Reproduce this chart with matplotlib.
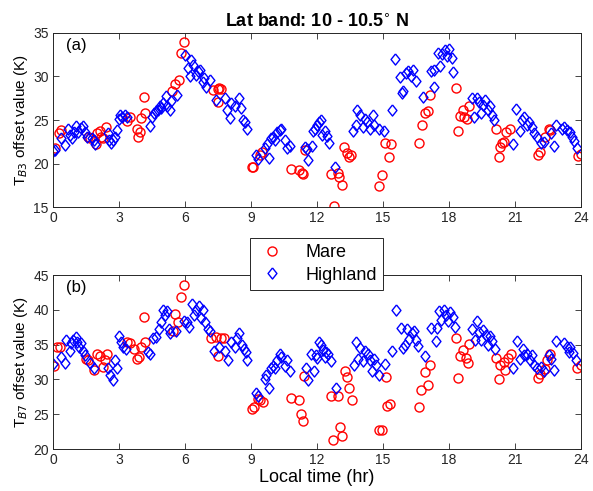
import matplotlib
matplotlib.use('Agg')
import matplotlib.pyplot as plt
import numpy as np

plt.rcParams['font.family'] = ['Liberation Sans', 'DejaVu Sans']

# Panel (a): TB3 offsets
mare_a_hr = [0.08, 0.26, 0.35, 1.6, 1.7, 1.94, 2.0, 2.15, 2.2, 2.28, 2.43, 3.35, 3.49, 3.8, 3.85, 3.95,
             4.0, 4.13, 4.2, 5.39, 5.54, 5.74, 5.84, 5.95, 7.28, 7.5, 7.56, 7.63, 7.5, 9.03, 9.1, 9.4,
             9.5, 10.8, 11.2, 11.35, 11.3, 11.45, 12.63, 12.75, 12.95, 13.0, 13.13, 13.23, 13.35, 13.45,
             13.55, 14.82, 14.95, 15.1, 15.25, 15.35, 16.65, 16.77, 16.92, 17.05, 17.15, 18.33, 18.43,
             18.48, 18.63, 18.7, 18.8, 18.93, 20.15, 20.26, 20.33, 20.4, 20.5, 20.6, 20.75, 22.03, 22.13,
             22.38, 22.53, 22.6, 23.85, 24.0]
mare_a_val = [21.75, 23.5, 23.8, 23.1, 22.9, 22.2, 23.5, 23.7, 23.1, 22.9, 24.2, 24.9, 25.4, 24.0, 23.1, 23.6,
              25.2, 27.6, 25.8, 28.3, 29.1, 29.6, 32.7, 34.0, 28.4, 28.6, 28.7, 28.6, 27.1, 19.6, 19.6, 21.0,
              21.3, 19.4, 19.3, 18.8, 18.9, 21.6, 18.8, 15.1, 18.9, 18.4, 17.5, 21.9, 21.2, 20.8,
              21.0, 17.4, 18.7, 22.4, 20.8, 22.2, 22.4, 24.4, 25.8, 26.0, 27.9, 28.7, 23.7,
              25.5, 26.1, 25.4, 25.1, 26.6, 24.0, 20.7, 21.9, 22.4, 22.5, 23.6, 24.0, 21.0, 21.3,
              23.1, 24.0, 23.8, 20.9, 21.1]

high_a_hr = [0.0, 0.1, 0.38, 0.53, 0.68, 0.75, 0.86, 0.95, 1.03, 1.12, 1.29, 1.37, 1.47, 1.55, 1.76, 1.85,
             1.9, 2.5, 2.56, 2.64, 2.74, 2.8, 2.9, 3.0, 3.06, 3.14, 3.26, 3.35, 4.4, 4.5, 4.6, 4.7, 4.78,
             4.85, 4.92, 5.0, 5.13, 5.18, 5.3, 5.38, 5.65, 6.0, 6.12, 6.22, 6.28, 6.38, 6.5, 6.6, 6.66,
             6.8, 6.87, 6.96, 7.12, 7.42, 7.8, 7.9, 8.03, 8.1, 8.25, 8.45, 8.56, 8.65, 8.72, 8.8, 9.22,
             9.32, 9.63, 9.73, 9.83, 9.93, 10.0, 10.08, 10.2, 10.3, 10.35, 10.55, 10.63, 10.75, 11.46,
             11.53, 11.6, 11.75, 11.84, 11.92, 12.0, 12.09, 12.17, 12.24, 12.35, 12.44, 12.55, 12.82,
             13.63, 13.75, 13.82, 13.97, 14.1, 14.2, 14.28, 14.43, 14.55, 14.6, 14.8, 15.05, 15.4, 15.55,
             15.75, 15.85, 15.93, 16.04, 16.15, 16.25, 16.37, 16.52, 16.8, 17.16, 17.3, 17.33, 17.5, 17.6,
             17.7, 17.83, 17.93, 18.0, 18.13, 18.2, 19.04, 19.15, 19.25, 19.35, 19.45, 19.55, 19.64,
             19.76, 19.85, 19.95, 20.06, 20.9, 21.05, 21.23, 21.3, 21.42, 21.53, 21.65, 21.76, 21.87,
             21.99, 22.17, 22.3, 22.63, 22.76, 22.88, 23.14, 23.24, 23.36, 23.48, 23.6, 23.7, 23.82]
high_a_val = [21.4, 21.5, 22.9, 22.1, 24.0, 23.3, 22.9, 23.6, 24.3, 23.6, 24.1, 24.3, 23.6, 23.1, 22.9, 22.7,
              22.2, 23.5, 22.7, 22.4, 22.7, 23.1, 23.8, 25.1, 25.6, 25.4, 25.6, 25.3, 24.3, 25.4, 25.8, 26.0, 26.2,
              26.6, 26.4, 27.0, 27.8, 26.6, 26.2, 27.2, 27.9, 32.5, 31.0, 30.0, 31.9, 31.3, 30.2, 30.6, 30.7,
              29.4, 29.8, 28.8, 29.6, 27.3, 27.5, 26.2, 25.2, 27.0, 26.6, 27.5, 26.4, 25.0, 24.8, 24.0, 21.0,
              20.5, 21.8, 22.2, 20.6, 22.9, 23.1, 22.7, 23.6, 23.8, 24.0, 22.7, 21.8, 22.0, 21.9,
              21.7, 20.4, 22.0, 23.7, 24.0, 24.4, 24.8, 25.0, 23.3, 23.7, 23.2, 22.4, 19.6,
              23.7, 24.4, 26.2, 25.6, 24.2, 25.1, 24.8, 24.0, 25.6, 24.4, 24.0, 23.7, 26.1, 32.0,
              29.9, 28.1, 28.3, 30.4, 30.6, 30.0, 30.8, 29.5, 27.7, 30.6, 28.8, 30.8, 32.7, 31.2,
              32.6, 33.0, 32.4, 33.2, 32.1, 30.5, 27.5, 25.4, 27.5, 27.1, 25.8, 26.7, 27.3,
              26.2, 26.6, 25.6, 25.0, 22.2, 26.3, 23.7, 25.0, 25.4, 24.4, 24.8, 24.2, 23.5,
              23.1, 22.3, 22.5, 23.5, 22.0, 24.4, 24.0, 24.2, 23.8, 23.6, 23.1, 22.6, 21.8]

# Panel (b): TB7 offsets
mare_b_hr = [0.03, 0.18, 0.3, 1.52, 1.6, 1.85, 2.0, 2.12, 2.25, 2.36, 2.46, 3.37, 3.49, 3.7, 3.8, 3.93, 4.0,
             4.13, 4.2, 5.46, 5.53, 5.68, 5.84, 5.95, 7.2, 7.4, 7.5, 7.65, 7.75, 9.03, 9.13, 9.32, 9.43,
             9.53, 10.8, 11.18, 11.25, 11.37, 11.42, 12.63, 12.72, 12.95, 13.05, 13.15, 13.25, 13.38,
             13.46, 13.58, 14.8, 14.95, 15.15, 15.2, 15.33, 16.65, 16.72, 16.93, 17.03, 17.15, 18.33,
             18.43, 18.48, 18.63, 18.75, 18.85, 18.9, 20.15, 20.25, 20.33, 20.48, 20.55, 20.7, 20.8,
             22.03, 22.12, 22.37, 22.45, 22.57, 23.83, 24.0]
mare_b_val = [31.9, 34.6, 34.6, 32.9, 32.8, 31.3, 33.6, 33.3, 31.8, 32.8, 33.6, 35.4, 35.2, 34.4, 32.9, 33.2, 34.6,
              38.9, 35.4, 36.9, 39.4, 38.2, 41.9, 43.6, 35.9, 36.1, 33.4, 36.0, 35.9, 25.8, 26.0, 27.2, 27.0,
              26.8, 27.4, 27.0, 25.0, 24.0, 30.5, 27.6, 21.3, 27.6, 23.2, 21.8, 31.2, 30.4,
              28.7, 27.0, 22.8, 22.8, 30.4, 26.2, 26.5, 26.1, 28.5, 31.0, 29.2, 32.0, 35.9,
              30.2, 33.4, 34.2, 33.1, 32.3, 35.1, 33.1, 30.0, 32.1, 32.5, 31.4, 33.1, 33.6,
              30.2, 30.8, 31.5, 32.8, 33.6, 31.6, 32.0]

high_b_hr = [0.0, 0.38, 0.53, 0.6, 0.76, 0.84, 0.9, 1.03, 1.1, 1.18, 1.29, 1.37, 1.44, 1.67, 1.85, 2.5, 2.58,
             2.73, 2.8, 2.9, 3.0, 3.1, 3.2, 3.33, 4.3, 4.4, 4.56, 4.7, 4.8, 4.9, 5.0, 5.1, 5.2, 5.25, 5.3,
             5.6, 5.95, 6.08, 6.2, 6.3, 6.4, 6.5, 6.63, 6.74, 6.8, 6.93, 7.04, 7.14, 7.33, 7.56, 7.8,
             7.97, 8.1, 8.27, 8.37, 8.46, 8.57, 8.67, 8.76, 8.83, 9.22, 9.33, 9.63, 9.7, 9.83, 9.93,
             10.0, 10.08, 10.2, 10.3, 10.35, 10.55, 10.63, 10.75, 11.5, 11.6, 11.72, 11.86, 11.94, 12.0,
             12.08, 12.16, 12.27, 12.36, 12.42, 12.5, 12.62, 12.88, 13.7, 13.78, 13.88, 13.97, 14.1,
             14.2, 14.3, 14.4, 14.48, 14.6, 14.7, 14.8, 15.1, 15.43, 15.6, 15.8, 15.9, 16.0, 16.1, 16.2,
             16.3, 16.4, 16.5, 16.6, 16.9, 17.2, 17.4, 17.45, 17.55, 17.65, 17.75, 17.87, 17.94, 18.06,
             18.17, 18.27, 19.05, 19.16, 19.25, 19.36, 19.47, 19.55, 19.66, 19.76, 19.86, 19.96, 20.07,
             20.9, 21.08, 21.24, 21.36, 21.42, 21.55, 21.67, 21.78, 21.88, 22.0, 22.18, 22.3, 22.53,
             22.64, 22.76, 22.88, 23.21, 23.34, 23.44, 23.52, 23.64, 23.75]
high_b_val = [32.2, 33.2, 32.3, 35.6, 34.1, 35.3, 35.6, 36.1, 35.4, 34.7, 35.2, 34.1, 33.5, 32.3, 31.7, 31.7, 30.6,
              29.9, 32.8, 31.7, 36.3, 35.4, 34.7, 34.4, 34.0, 33.6, 35.9, 36.1, 37.3, 38.2, 40.0, 39.3, 39.8, 37.2, 36.7,
              37.0, 38.4, 38.2, 37.6, 40.9, 39.3, 40.0, 40.5, 38.8, 40.0, 38.2, 37.3, 36.9, 34.1, 34.6, 34.1,
              32.8, 35.4, 34.6, 35.9, 36.6, 35.0, 34.3, 33.9, 32.8, 28.1, 27.6, 30.1, 30.6, 28.8, 31.6,
              31.9, 31.7, 32.8, 33.6, 33.2, 31.9, 32.8, 31.2, 31.7, 29.9, 33.6, 31.2, 33.5, 33.1,
              35.4, 35.0, 34.2, 33.2, 33.9, 33.6, 32.6, 28.8, 32.0, 35.4, 32.9, 34.5, 32.7,
              34.1, 33.7, 32.8, 31.2, 32.9, 32.0, 30.6, 32.2, 34.1, 40.0, 37.4, 34.5, 35.0, 37.2, 35.8,
              36.6, 36.9, 35.7, 34.8, 33.4, 37.4, 35.5, 37.4, 39.8, 38.5, 40.0, 39.3, 38.4, 39.7,
              39.0, 37.6, 37.2, 35.6, 38.4, 36.8, 35.6, 37.1, 36.4, 35.0, 36.2, 35.5, 34.4,
              31.7, 35.5, 32.9, 34.3, 33.5, 33.7, 32.8, 33.5, 32.0, 31.6, 31.8, 31.2, 33.5,
              32.9, 31.4, 35.5, 35.3, 34.7, 34.0, 34.7, 33.8, 32.8]

xticks = [0, 3, 6, 9, 12, 15, 18, 21, 24]

diamond = [(0, 1), (0.8, 0), (0, -1), (-0.8, 0), (0, 1)]

fig = plt.figure(figsize=(5.93, 4.91), dpi=100)
ax1 = fig.add_axes([0.0894, 0.5784, 0.8904, 0.3544])
ax2 = fig.add_axes([0.0894, 0.0855, 0.8904, 0.3544])


def style_axes(ax, ylim, yticks, label, tag):
    ax.set_xlim(0, 24)
    ax.set_ylim(*ylim)
    ax.set_xticks(xticks)
    ax.set_yticks(yticks)
    ax.tick_params(direction='in', top=True, right=True, labelsize=10, length=4,
                   width=0.6, colors='#262626', pad=3)
    for s in ax.spines.values():
        s.set_linewidth(0.7)
        s.set_color('#262626')
    ax.set_ylabel(label, fontsize=11, labelpad=2)
    ax.text(0.025, 0.93, tag, transform=ax.transAxes, fontsize=12, va='center', ha='left')


mk = dict(linestyle='none', markerfacecolor='none')
ax1.plot(mare_a_hr, mare_a_val, marker='o', markeredgecolor='#ff0000', markersize=6.5, markeredgewidth=1.0, **mk)
ax1.plot(high_a_hr, high_a_val, marker=diamond, markeredgecolor='#0000ff', markersize=8, markeredgewidth=1.0, **mk)
style_axes(ax1, (15, 35), [15, 20, 25, 30, 35], 'T$_{B3}$ offset value (K)', '(a)')
ax1.set_title('Lat band: 10 - 10.5$^{\\circ}$ N', fontsize=13, fontweight='bold', pad=4)

l1, = ax2.plot(mare_b_hr, mare_b_val, marker='o', markeredgecolor='#ff0000', markersize=6.5, markeredgewidth=1.0, **mk)
l2, = ax2.plot(high_b_hr, high_b_val, marker=diamond, markeredgecolor='#0000ff', markersize=8, markeredgewidth=1.0, **mk)
style_axes(ax2, (20, 45), [20, 25, 30, 35, 40, 45], 'T$_{B7}$ offset value (K)', '(b)')
ax2.set_xlabel('Local time (hr)', fontsize=13, labelpad=1)

leg = fig.legend([l1, l2], ['Mare', 'Highland'], loc='center', bbox_to_anchor=(0.534, 0.4623),
                 fontsize=13, frameon=True, fancybox=False, edgecolor='#262626', framealpha=1,
                 handletextpad=1.0, borderpad=0.35, labelspacing=0.3, handlelength=1.7)
leg.get_frame().set_linewidth(0.7)
leg.set_zorder(10)

fig.savefig('out.png', dpi=100)
